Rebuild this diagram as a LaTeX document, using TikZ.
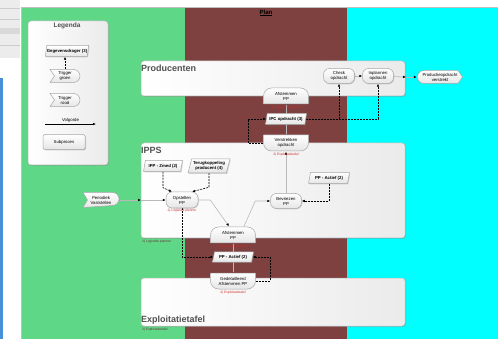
\documentclass[tikz,border=0pt]{standalone}
\usepackage{fontspec}
\setmainfont{Liberation Sans}
\usetikzlibrary{arrows.meta,shapes.geometric,shadows,calc}

\definecolor{plangreen}{RGB}{94,216,135}
\definecolor{planbrown}{RGB}{127,64,64}
\definecolor{plancyan}{RGB}{0,255,255}
\definecolor{uiblue}{RGB}{74,144,217}
\definecolor{rolered}{RGB}{205,45,45}
\definecolor{titlegray}{RGB}{80,80,80}

\pgfdeclarelayer{lanes}
\pgfdeclarelayer{links}
\pgfsetlayers{lanes,links,main}

\newcommand{\bbx}{path picture bounding box}

\tikzset{
  every node/.style={font=\fontsize{4.3}{5}\selectfont, align=center, inner sep=0pt},
  shapeline/.style={draw=gray!70, line width=0.5pt, top color=white, bottom color=gray!20},
  box/.style={draw=gray!55, line width=0.5pt, rounded corners=3pt, left color=white, right color=gray!16,
    drop shadow={shadow xshift=1pt, shadow yshift=-1pt, opacity=.35}},
  boxtitle/.style={font=\fontsize{9}{10}\selectfont\bfseries, text=titlegray, anchor=west},
  act/.style={rectangle, rounded corners=6pt, shapeline, minimum width=31pt, minimum height=15pt,
    drop shadow={shadow xshift=.8pt, shadow yshift=-.8pt, opacity=.3}},
  sub/.style={rectangle, rounded corners=2pt, shapeline, minimum width=42pt, minimum height=15pt,
    drop shadow={shadow xshift=1pt, shadow yshift=-1pt, opacity=.35}},
  data/.style={trapezium, trapezium left angle=70, trapezium right angle=110, trapezium stretches=true,
    shapeline, minimum width=41pt, minimum height=11pt, font=\fontsize{4.3}{5}\selectfont\bfseries,
    drop shadow={shadow xshift=.8pt, shadow yshift=-.8pt, opacity=.3}},
  dome/.style={minimum width=#1, minimum height=17pt, path picture={
    \draw[shapeline] ([shift={(.5pt,.5pt)}]\bbx.south west) -- ([shift={(-.5pt,.5pt)}]\bbx.south east)
      -- ++(0,8pt) arc[start angle=0, end angle=90, radius=8pt]
      -- ([shift={(8.5pt,-.5pt)}]\bbx.north west) arc[start angle=90, end angle=180, radius=8pt] -- cycle;}},
  domebot/.style={minimum width=#1, minimum height=17pt, path picture={
    \draw[shapeline] ([shift={(.5pt,-.5pt)}]\bbx.north west) -- ([shift={(-.5pt,-.5pt)}]\bbx.north east)
      -- ++(0,-8pt) arc[start angle=0, end angle=-90, radius=8pt]
      -- ([shift={(8.5pt,.5pt)}]\bbx.south west) arc[start angle=270, end angle=180, radius=8pt] -- cycle;}},
  trig/.style={minimum width=#1, minimum height=14pt, path picture={
    \draw[shapeline] ([shift={(.5pt,-.5pt)}]\bbx.north west) -- ([shift={(-7pt,-.5pt)}]\bbx.north east)
      arc[start angle=90, end angle=-90, radius=6.5pt]
      -- ([shift={(.5pt,.5pt)}]\bbx.south west) -- ([xshift=5pt]\bbx.west) -- cycle;}},
  result/.style={minimum width=#1, minimum height=14pt, path picture={
    \draw[shapeline] ([shift={(7pt,-.5pt)}]\bbx.north west) -- ([shift={(-5pt,-.5pt)}]\bbx.north east)
      -- ([xshift=-.5pt]\bbx.east) -- ([shift={(-5pt,.5pt)}]\bbx.south east)
      -- ([shift={(7pt,.5pt)}]\bbx.south west) arc[start angle=270, end angle=90, radius=6.5pt] -- cycle;}},
  role/.style={font=\fontsize{3.3}{4}\selectfont, text=rolered},
  flow/.style={draw=gray!55, line width=.6pt, -{Latex[length=3pt, width=2.6pt, color=black]}},
  dataflow/.style={draw=black, line width=.6pt, dash pattern=on 2pt off 1pt, -{Latex[length=3pt, width=2.6pt]}},
  link/.style={draw=gray!55, line width=.6pt}
}

\begin{document}
\begin{tikzpicture}[x=1pt,y=-1pt]
\useasboundingbox (0,0) rectangle (498,339);

\begin{pgfonlayer}{lanes}
\fill[white] (0,0) rectangle (498,339);
\fill[gray!15] (0,0) rectangle (20,58);
\fill[gray!30] (0,28) rectangle (20,34);
\draw[gray!40] (0,8) -- (20,8) (0,19) -- (20,19) (0,45) -- (20,45);
\fill[uiblue] (0,78) rectangle (3,339);
\draw[gray!50] (21,7) -- (498,7) (21,7) -- (21,339);
\fill[plangreen] (22,8) rectangle (185,339);
\fill[planbrown] (185,8) rectangle (347,339);
\fill[plancyan] (347,8) rectangle (498,339);

\path[box] (28,21) rectangle (108,165);
\path[box] (141,61) rectangle (405,96);
\path[box] (141,143) rectangle (405,238);
\path[box] (141,278) rectangle (405,326);
\end{pgfonlayer}

\node[font=\fontsize{6}{7}\selectfont\bfseries] (plan) at (266,13) {\underline{Plan}};

% legenda
\node[font=\fontsize{6.5}{7}\selectfont\bfseries, text=titlegray] (legtitle) at (67,26) {Legenda};
\node[data] (lgdata) at (67,51) {Gegevensdrager (3)};
\node[trig=31pt] (lgtrig1) at (65,76) {Trigger\\groen};
\node[trig=31pt] (lgtrig2) at (65,100) {Trigger\\rood};
\coordinate (lgv1) at (45,124);
\coordinate (lgv2) at (96,124);
\node[sub] (lgsub) at (64,142) {Subproces};

% lagen
\node[boxtitle] (prodtitle) at (141,68) {Producenten};
\node[boxtitle] (ippstitle) at (141,150) {IPPS};
\node[boxtitle] (expltitle) at (141,320) {Exploitatietafel};
\node[role, anchor=west, text=planbrown!80!black] (ippsrole) at (142,242) {2) Logistiek planner};
\node[role, anchor=west, text=planbrown!80!black] (explrole) at (142,330) {2) Exploitatietafel};

% producenten
\node[act] (check) at (339,76) {Check\\opdracht};
\node[act] (inpl) at (378,76) {Inplannen\\opdracht};
\coordinate (outpt) at (406,77);
\node[result=46pt] (prod) at (440,77) {Productieopdracht\\verstrekt};

% plan
\node[dome=46pt] (afst1) at (286,96) {Afstemmen\\PP};
\node[role] (afst1role) at (286,108) {2) Logistiek planner};
\node[data] (ipc) at (286,119) {IPC opdracht (3)};
\node[domebot=46pt] (verstr) at (286,143) {Verstrekken\\opdracht};
\node[role] (verstrrole) at (286,155) {2) Exploitatietafel};

% ipps
\node[data, minimum width=39pt] (zmed) at (163,166) {IPP - Zmed (2)};
\node[data, minimum width=42pt, minimum height=14pt] (terug) at (209,166) {Terugkoppeling\\producent (4)};
\node[trig=37pt, minimum height=16pt] (per) at (101,200) {Periodiek\\Vaststellen};
\coordinate (inpt) at (141,200);
\node[act, minimum width=32pt, minimum height=16pt] (opst) at (182,200) {Opstellen\\PP};
\node[role] (opstrole) at (182,211) {2) Logistiek planner};
\node[act] (bevr) at (286,201) {Bevriezen\\PP};
\node[data] (ppt) at (329,178) {PP - Actief (2)};
\node[dome=46pt] (afst2) at (233,235) {Afstemmen\\PP};
\node[role] (afst2role) at (233,247) {2) Logistiek planner};
\node[data, minimum height=10pt] (ppb) at (233,257) {PP - Actief (2)};
\node[domebot=46pt] (gedet) at (233,281) {Gedetailleerd\\Afstemmen PP};
\node[role] (gedetrole) at (233,293) {2) Exploitatietafel};

\begin{pgfonlayer}{links}
\draw[dataflow] (lgtrig1.north) -- (lgtrig1.north |- lgdata.south);
\draw[flow, draw=black] (lgv1) -- node[above=1.5pt] {Volgorde} (lgv2);

\draw[flow] (check) -- (inpl);
\draw[flow] (inpl) -- (outpt);
\draw[flow] (outpt) -- (prod);
\draw[dataflow] (ipc.east) -| (check.south);
\draw[dataflow] (ipc.east) -| (inpl.south);
\draw[link] (verstr.north) -- (afst1.south);
\draw[dataflow] (verstr.west) -- ++(-15,0) |- (ipc.west);

\draw[flow] (per) -- (inpt);
\draw[flow] (inpt) -- (opst);
\draw[dataflow] (zmed.south) -- ++(0,16) -- ([xshift=-10pt]opst.north);
\draw[dataflow] (terug.south) -- ++(0,14) -- ([xshift=10pt]opst.north);
\draw[flow] (opst.east) -- ++(12,0) -- ([xshift=-4pt]afst2.north);
\draw[flow] ([xshift=11pt]afst2.north) -- ([xshift=-15pt]bevr.west) -- (bevr.west);
\draw[flow] (bevr) -- (verstr);
\draw[dataflow] (ppt.south) |- (bevr.east);
\draw[dataflow] (opst.south) |- (ppb.west);
\draw[link] (afst2.south) -- (gedet.north);
\draw[dataflow] (gedet.east) -- ++(14,0) |- (ppb.east);
\end{pgfonlayer}
\end{tikzpicture}
\end{document}
